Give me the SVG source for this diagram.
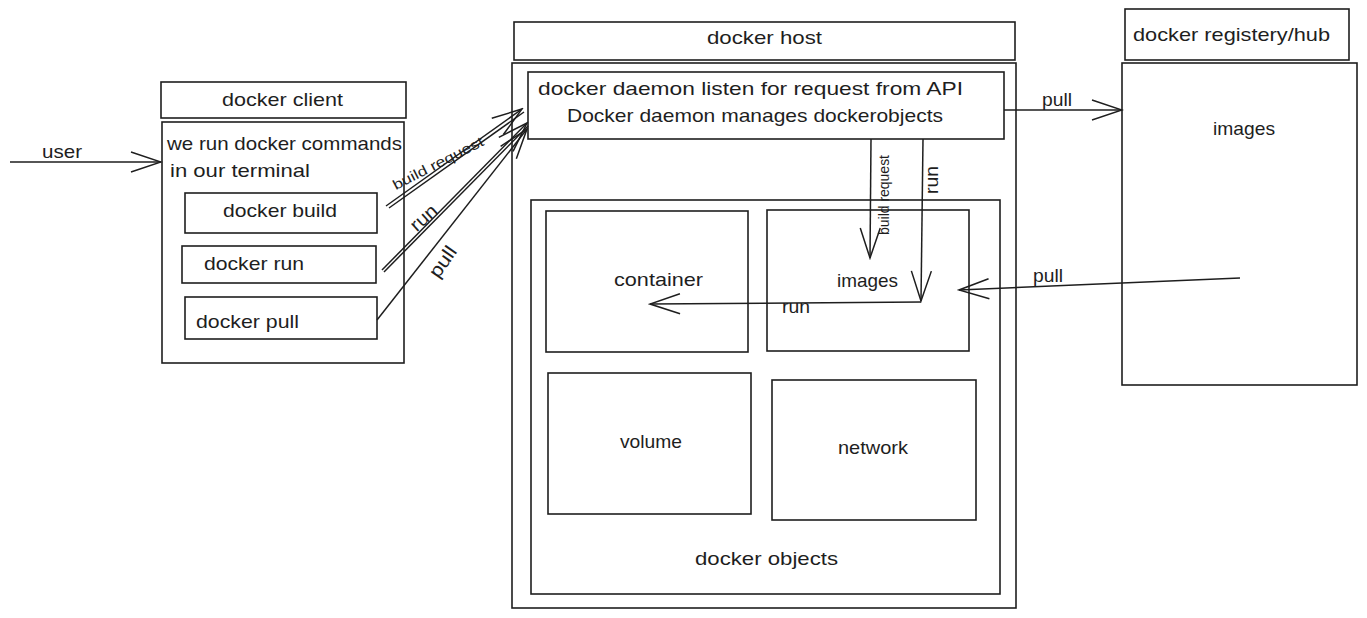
<svg xmlns="http://www.w3.org/2000/svg" width="1367" height="618" viewBox="0 0 1367 618">
<style>
.b{fill:none;stroke:#1e1e1e;stroke-width:1.6}
.l{fill:none;stroke:#1e1e1e;stroke-width:1.5}
.t{font-family:"Liberation Sans",Arial,sans-serif;font-size:19px;fill:#1e1e1e}
.s{font-size:14px}
</style>
<defs>
<marker id="arr" viewBox="-2 -13 34 26" refX="30" refY="0" markerWidth="34" markerHeight="26" markerUnits="userSpaceOnUse" orient="auto">
<path d="M0,-10 L30,0 L0,10" fill="none" stroke="#1e1e1e" stroke-width="1.5"/>
</marker>
</defs>
<rect width="1367" height="618" fill="#ffffff"/>

<g id="client-header"><rect class="b" x="161" y="82" width="245" height="36"/><text class="t" x="222" y="106" textLength="121" lengthAdjust="spacingAndGlyphs">docker client</text></g>
<g id="client-body"><rect class="b" x="162" y="122" width="242" height="241"/>
<text class="t" x="167" y="150" textLength="235" lengthAdjust="spacingAndGlyphs">we run docker commands</text>
<text class="t" x="170" y="177" textLength="140" lengthAdjust="spacingAndGlyphs">in our terminal</text></g>
<g id="docker-build"><rect class="b" x="185" y="193" width="192" height="40"/><text class="t" x="223" y="217" textLength="114" lengthAdjust="spacingAndGlyphs">docker build</text></g>
<g id="docker-run"><rect class="b" x="182" y="246" width="194" height="37"/><text class="t" x="204" y="270" textLength="100" lengthAdjust="spacingAndGlyphs">docker run</text></g>
<g id="docker-pull"><rect class="b" x="185" y="297" width="192" height="42"/><text class="t" x="196" y="328" textLength="103" lengthAdjust="spacingAndGlyphs">docker pull</text></g>

<g id="host-header"><rect class="b" x="514" y="22" width="501" height="38"/><text class="t" x="707" y="44" textLength="115" lengthAdjust="spacingAndGlyphs">docker host</text></g>
<g id="host-body"><rect class="b" x="512" y="63" width="504" height="545"/></g>
<g id="daemon"><rect class="b" x="528" y="72" width="476" height="67"/>
<text class="t" x="538" y="95" textLength="425" lengthAdjust="spacingAndGlyphs">docker daemon listen for request from API</text>
<text class="t" x="567" y="122" textLength="376" lengthAdjust="spacingAndGlyphs">Docker daemon manages dockerobjects</text></g>
<g id="docker-objects"><rect class="b" x="531" y="200" width="469" height="394"/><text class="t" x="695" y="565" textLength="143" lengthAdjust="spacingAndGlyphs">docker objects</text></g>
<g id="container"><rect class="b" x="546" y="211" width="202" height="141"/><text class="t" x="614" y="286" textLength="89" lengthAdjust="spacingAndGlyphs">container</text></g>
<g id="images-host"><rect class="b" x="767" y="210" width="202" height="141"/><text class="t" x="837" y="287" textLength="61" lengthAdjust="spacingAndGlyphs">images</text></g>
<g id="volume"><rect class="b" x="548" y="373" width="203" height="141"/><text class="t" x="620" y="448" textLength="62" lengthAdjust="spacingAndGlyphs">volume</text></g>
<g id="network"><rect class="b" x="772" y="380" width="204" height="140"/><text class="t" x="838" y="454" textLength="70" lengthAdjust="spacingAndGlyphs">network</text></g>

<g id="registry-header"><rect class="b" x="1125" y="9" width="224" height="51"/><text class="t" x="1133" y="41" textLength="197" lengthAdjust="spacingAndGlyphs">docker registery/hub</text></g>
<g id="registry-body"><rect class="b" x="1122" y="63" width="235" height="322"/><text class="t" x="1213" y="135" textLength="62" lengthAdjust="spacingAndGlyphs">images</text></g>

<g id="connectors">
<line class="l" x1="10" y1="162" x2="161" y2="162" marker-end="url(#arr)"/>
<text class="t" x="42" y="158" textLength="40" lengthAdjust="spacingAndGlyphs">user</text>

<line class="l" x1="386" y1="206" x2="522" y2="109" marker-end="url(#arr)"/>
<line class="l" x1="389" y1="208" x2="524" y2="112" stroke-width="0.8"/>
<text class="t s" x="438" y="168" text-anchor="middle" textLength="100" lengthAdjust="spacingAndGlyphs" transform="rotate(-27 438 163)">build request</text>
<line class="l" x1="382" y1="270" x2="527" y2="123" marker-end="url(#arr)"/>
<line class="l" x1="384" y1="272" x2="528" y2="126" stroke-width="0.8"/>
<text class="t" x="424" y="224" text-anchor="middle" textLength="30" lengthAdjust="spacingAndGlyphs" transform="rotate(-42 424 218)">run</text>
<line class="l" x1="377" y1="320" x2="527" y2="129" marker-end="url(#arr)"/>
<text class="t" x="443" y="268" text-anchor="middle" textLength="34" lengthAdjust="spacingAndGlyphs" transform="rotate(-55 443 262)">pull</text>

<line class="l" x1="1004" y1="110" x2="1122" y2="110" marker-end="url(#arr)"/>
<text class="t" x="1042" y="106" textLength="30" lengthAdjust="spacingAndGlyphs">pull</text>

<line class="l" x1="871" y1="139" x2="870" y2="258" marker-end="url(#arr)"/>
<text class="t s" x="884" y="195" text-anchor="middle" dominant-baseline="central" textLength="80" lengthAdjust="spacingAndGlyphs" transform="rotate(-90 884 195)">build request</text>
<line class="l" x1="923" y1="139" x2="921" y2="301" marker-end="url(#arr)"/>
<text class="t" x="931" y="180" text-anchor="middle" dominant-baseline="central" textLength="28" lengthAdjust="spacingAndGlyphs" transform="rotate(-90 931 180)">run</text>
<line class="l" x1="921" y1="302" x2="650" y2="304" marker-end="url(#arr)"/>
<text class="t" x="782" y="313" textLength="28" lengthAdjust="spacingAndGlyphs">run</text>

<line class="l" x1="1240" y1="278" x2="959" y2="290" marker-end="url(#arr)"/>
<text class="t" x="1033" y="282" textLength="30" lengthAdjust="spacingAndGlyphs">pull</text>
</g>
</svg>
